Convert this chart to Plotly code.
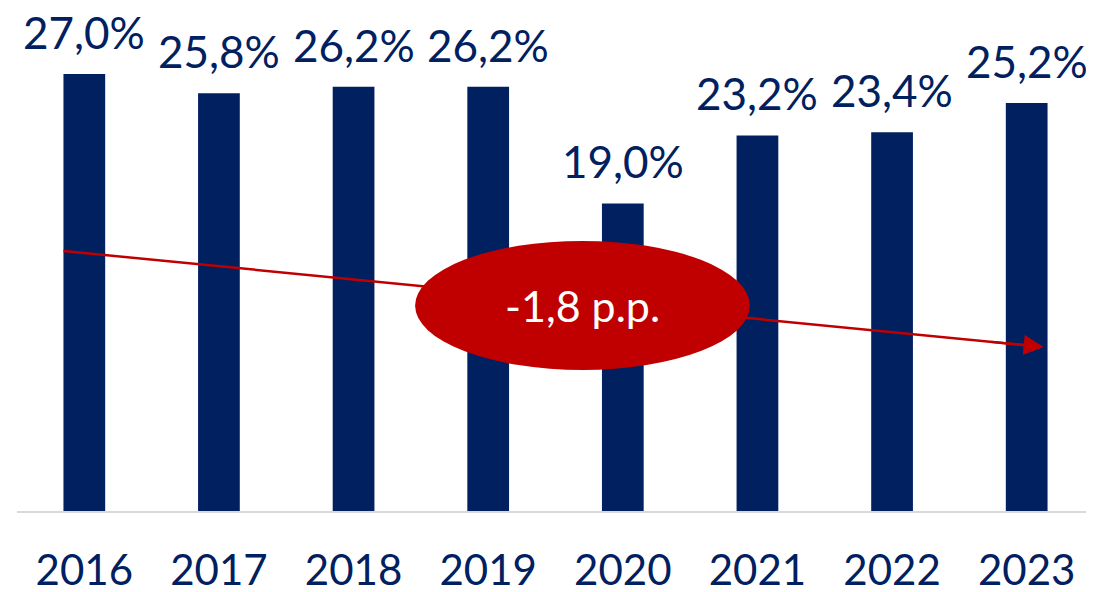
import plotly.graph_objects as go

years = ["2016", "2017", "2018", "2019", "2020", "2021", "2022", "2023"]
values = [27.0, 25.8, 26.2, 26.2, 19.0, 23.2, 23.4, 25.2]
labels = [f"{v:.1f}%".replace(".", ",") for v in values]
trend_text = "-1,8 p.p."

NAVY = "#002060"
RED = "#C00000"
FONT = "Lato"

pos = list(range(len(years)))

fig = go.Figure()
fig.add_trace(go.Bar(x=pos, y=values, width=0.31, marker=dict(color=NAVY, line=dict(width=0)),
                     hoverinfo="skip"))

for p, v, t in zip(pos, values, labels):
    fig.add_annotation(x=p, y=v, text=t, showarrow=False, yanchor="bottom",
                       yshift=14, font=dict(family=FONT, size=44, color=NAVY))

# trend line (start x, end x in category index units)
x_start, y_start = -0.155, 16.06
x_end, y_end = 7.126, 10.13
slope = (y_end - y_start) / (x_end - x_start)
fig.add_shape(type="line", xref="x", yref="y", x0=x_start, y0=y_start,
              x1=x_end - 0.08, y1=y_end - 0.08 * slope,
              line=dict(color=RED, width=2.5), layer="above")
fig.add_shape(type="circle", xref="x", yref="y", x0=2.457, x1=4.944, y0=8.71, y1=16.68,
              fillcolor=RED, line=dict(width=0), layer="above")
fig.add_annotation(x=x_end, y=y_end, ax=x_end - 0.4, ay=y_end - 0.4 * slope,
                   axref="x", ayref="y", xref="x", yref="y", text="", showarrow=True,
                   arrowhead=2, arrowsize=1.6, arrowwidth=2.5, arrowcolor=RED)
fig.add_annotation(x=3.7, y=12.7, text=trend_text, showarrow=False,
                   font=dict(family=FONT, size=43, color="white"))

fig.update_layout(
    width=1094, height=592,
    margin=dict(l=9, r=8, t=0, b=89, autoexpand=False),
    paper_bgcolor="white", plot_bgcolor="white",
    showlegend=False,
    xaxis=dict(range=[-0.5, 7.5], tickvals=pos, ticktext=years, showgrid=False, zeroline=False,
               showline=True, linecolor="#D9D9D9", linewidth=1.5, automargin=False,
               ticks="", tickfont=dict(family=FONT, size=42, color=NAVY), ticklabelstandoff=22),
    yaxis=dict(range=[0, 31.07], visible=False, showgrid=False, zeroline=False),
)
fig.write_html("out.html")
